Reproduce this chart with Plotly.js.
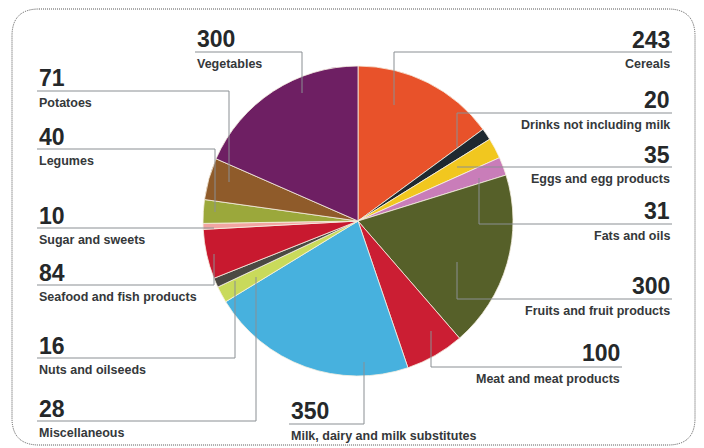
<!DOCTYPE html>
<html>
<head>
<meta charset="utf-8">
<script src="https://cdn.plot.ly/plotly-3.0.1.min.js"></script>
<style>html,body{margin:0;padding:0;background:#fff;}#chart{width:704px;height:448px;}</style>
</head>
<body>
<div id="chart"></div>
<script>
// ---- data ----
const categories = ["Cereals","Drinks not including milk","Eggs and egg products","Fats and oils",
  "Fruits and fruit products","Meat and meat products","Milk, dairy and milk substitutes",
  "Miscellaneous","Nuts and oilseeds","Seafood and fish products","Sugar and sweets",
  "Legumes","Potatoes","Vegetables"];
const values = [243,20,35,31,300,100,350,28,16,84,10,40,71,300];
const colors = ["#E8522A","#1E2930","#F1C71F","#C97DB9","#566029","#CB1E33","#47B1DE",
  "#C9DA5B","#4B4943","#C8192F","#F2A5A2","#9BA83B","#8F5B2A","#6E1F63"];

// ---- label layout (pixels): side, text x, number y, rule y, rule x from/to, leader end y ----
const labelLayout = [
  {side:"r", x:672, ny:40,  ry:52,  x0:394, x1:672, ly:105},
  {side:"r", x:672, ny:100, ry:113, x0:457, x1:672, ly:147},
  {side:"r", x:672, ny:155, ry:167, x0:457, x1:672, ly:167},
  {side:"r", x:672, ny:211, ry:224, x0:479, x1:672, ly:178},
  {side:"r", x:672, ny:286, ry:299, x0:457, x1:672, ly:262},
  {side:"r", x:622, ny:353, ry:367, x0:431, x1:622, ly:331},
  {side:"l", x:289, ny:411, ry:424, x0:289, x1:364, ly:362},
  {side:"l", x:37,  ny:409, ry:421, x0:37,  x1:256, ly:277},
  {side:"l", x:37,  ny:346, ry:358, x0:37,  x1:235, ly:281},
  {side:"l", x:37,  ny:273, ry:285, x0:37,  x1:214, ly:254},
  {side:"l", x:37,  ny:216, ry:228, x0:37,  x1:214, ly:228},
  {side:"l", x:37,  ny:137, ry:149, x0:37,  x1:215, ly:212},
  {side:"l", x:37,  ny:78,  ry:91,  x0:37,  x1:229, ly:182},
  {side:"l", x:195, ny:39,  ry:52,  x0:195, x1:302, ly:93}
];

const W = 704, H = 448;
const px = v => v / W;
const py = v => 1 - v / H;

const annotations = [];
const shapes = [];
const lineStyle = {color:"#8a8f93", width:1};

labelLayout.forEach((L, i) => {
  const anchor = L.side === "r" ? "right" : "left";
  annotations.push({
    xref:"paper", yref:"paper", x:px(L.x), y:py(L.ny), xanchor:anchor, yanchor:"middle",
    text:String(values[i]), showarrow:false,
    font:{family:"Liberation Sans, Arial, sans-serif", size:23, color:"#25282a", weight:"bold"}
  });
  annotations.push({
    xref:"paper", yref:"paper", x:px(L.x), y:py(L.ry + 12), xanchor:anchor, yanchor:"middle",
    text:categories[i], showarrow:false,
    font:{family:"Liberation Sans, Arial, sans-serif", size:12.5, color:"#35383a", weight:"bold"}
  });
  shapes.push({type:"line", xref:"paper", yref:"paper", x0:px(L.x0), x1:px(L.x1),
    y0:py(L.ry), y1:py(L.ry), line:lineStyle});
  const vx = L.side === "r" ? L.x0 : L.x1;
  if (L.ly !== L.ry) {
    shapes.push({type:"line", xref:"paper", yref:"paper", x0:px(vx), x1:px(vx),
      y0:py(L.ry), y1:py(L.ly), line:lineStyle});
  }
});

// dotted rounded frame
const fx0 = 12, fx1 = 695, fy0 = 9, fy1 = 445, r = 27;
shapes.push({
  type:"path", xref:"paper", yref:"paper", layer:"below",
  path:`M ${px(fx0+r)} ${py(fy0)} L ${px(fx1-r)} ${py(fy0)} Q ${px(fx1)} ${py(fy0)} ${px(fx1)} ${py(fy0+r)}` +
       ` L ${px(fx1)} ${py(fy1-r)} Q ${px(fx1)} ${py(fy1)} ${px(fx1-r)} ${py(fy1)}` +
       ` L ${px(fx0+r)} ${py(fy1)} Q ${px(fx0)} ${py(fy1)} ${px(fx0)} ${py(fy1-r)}` +
       ` L ${px(fx0)} ${py(fy0+r)} Q ${px(fx0)} ${py(fy0)} ${px(fx0+r)} ${py(fy0)} Z`,
  line:{color:"#555", width:1, dash:"1px,1px"}
});

const trace = {
  type:"pie", labels:categories, values:values, sort:false, direction:"clockwise", rotation:0,
  marker:{colors:colors, line:{color:"#f6f0e2", width:0.8}},
  textinfo:"none", hoverinfo:"label+value",
  domain:{x:[px(203), px(513)], y:[py(376), py(66)]}
};

Plotly.newPlot("chart", [trace], {
  width:W, height:H, margin:{l:0,r:0,t:0,b:0},
  paper_bgcolor:"#ffffff", showlegend:false,
  annotations:annotations, shapes:shapes
}, {displayModeBar:false, staticPlot:true});
</script>
</body>
</html>
